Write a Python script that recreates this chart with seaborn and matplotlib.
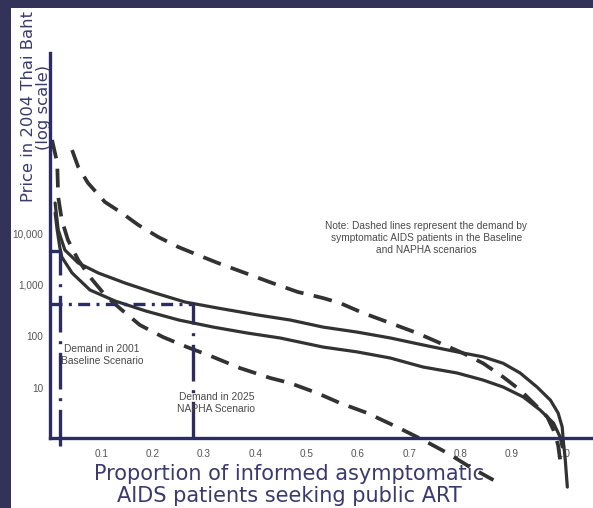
import matplotlib
matplotlib.use("Agg")
import matplotlib.pyplot as plt
from matplotlib.patches import Rectangle
import numpy as np
import pandas as pd
import seaborn as sns

# ---------------- data ----------------
# x = proportion seeking public ART, price = 2004 Thai Baht (log scale)
sym_hi_x = [0.043, 0.055, 0.074, 0.107, 0.140, 0.172, 0.211, 0.250, 0.288, 0.327,
            0.380, 0.433, 0.483, 0.532, 0.565, 0.610, 0.663, 0.715, 0.760, 0.805,
            0.844, 0.883, 0.916, 0.942, 0.969, 0.981, 0.990, 0.994]
sym_hi_price = [407000, 191000, 93500, 40100, 24500, 14400, 8400, 5380, 3770, 2640,
                1690, 1080, 723, 552, 442, 283, 181, 116, 74, 47,
                30, 16.3, 9.1, 5.1, 2.73, 1.53, 0.78, 0.40]

sym_lo_x = [0.004, 0.014, 0.016, 0.023, 0.035, 0.045, 0.055, 0.078, 0.109, 0.140,
            0.175, 0.220, 0.267, 0.318, 0.370, 0.429, 0.468, 0.520, 0.565, 0.618,
            0.676, 0.727, 0.774, 0.819, 0.864]
sym_lo_price = [637000, 229000, 50100, 17900, 7350, 4700, 3010, 1410, 600, 324,
                166, 97, 62, 39.7, 24.3, 15.6, 12.4, 8.0, 5.1, 3.27,
                1.75, 0.98, 0.55, 0.29, 0.164]

asym_hi_x = [0.010, 0.016, 0.029, 0.055, 0.094, 0.146, 0.205, 0.263, 0.327, 0.405,
             0.468, 0.532, 0.598, 0.663, 0.727, 0.793, 0.844, 0.883, 0.916, 0.949,
             0.975, 0.990, 0.998, 1.000, 1.004, 1.008]
asym_hi_price = [38300, 11500, 4700, 2640, 1690, 1080, 690, 462, 353, 259,
                 207, 151, 121, 93, 68, 50, 40, 30, 19.5, 10.4,
                 5.8, 3.27, 1.75, 0.98, 0.40, 0.12]

asym_lo_x = [0.010, 0.014, 0.019, 0.023, 0.043, 0.078, 0.127, 0.187, 0.251, 0.318,
             0.384, 0.448, 0.532, 0.598, 0.663, 0.727, 0.793, 0.844, 0.883, 0.922,
             0.955, 0.981, 0.994, 0.998]
asym_lo_price = [24500, 11500, 5380, 3440, 1690, 789, 483, 309, 207, 151,
                 116, 93, 62, 50, 38, 25.4, 19.5, 14.2, 10.4, 6.7,
                 3.73, 2.09, 1.12, 0.72]

# demand points marked by reference lines
baseline_2001 = (0.0195, 4600)
napha_2025 = (0.279, 423)

xtick_values = [0.1, 0.2, 0.3, 0.4, 0.5, 0.6, 0.7, 0.8, 0.9, 1.0]
xtick_labels = ["0.1", "0.2", "0.3", "0.4", "0.5", "0.6", "0.7", "0.8", "0.9", "1.0"]
ytick_values = [10, 100, 1000, 10000]
ytick_labels = ["10", "100", "1,000", "10,000"]

# ---------------- styling ----------------
NAVY = "#2c2c60"
BORDER = "#33335a"
TEXT_NAVY = "#3a3a6e"
CURVE = "#323232"
GRAY = "#4a4a4a"

sns.set_style("white")
plt.rcParams["font.family"] = ["Liberation Sans", "DejaVu Sans"]

W, H = 593, 508
fig = plt.figure(figsize=(W / 100, H / 100), dpi=100, facecolor=BORDER)
# white page inside the navy frame (frame: 8 px top, 11 px left)
fig.patches.append(Rectangle((11 / W, 0), 1 - 11 / W, 1 - 8 / H,
                             transform=fig.transFigure, facecolor="white",
                             edgecolor="none", zorder=-10))

ax = fig.add_axes([50 / W, (H - 438) / H, (W - 50) / W, (438 - 53) / H])
ax.set_facecolor("none")
ax.set_yscale("log")
xlo, xhi = 0.0, 1.058
ylo, yhi = 10 ** 0.03, 10 ** 7.49
ax.set_xlim(xlo, xhi)
ax.set_ylim(ylo, yhi)

def draw(xs, ys, dashed):
    df = pd.DataFrame({"x": xs, "price": ys})
    kw = dict(color=CURVE, clip_on=False, legend=False, sort=False, estimator=None)
    if dashed:
        sns.lineplot(data=df, x="x", y="price", ax=ax, lw=2.7,
                     linestyle=(0, (5.0, 2.8)), solid_capstyle="butt", **kw)
    else:
        sns.lineplot(data=df, x="x", y="price", ax=ax, lw=2.3, **kw)

draw(sym_hi_x, sym_hi_price, True)
draw(sym_lo_x, sym_lo_price, True)
draw(asym_hi_x, asym_hi_price, False)
draw(asym_lo_x, asym_lo_price, False)

def yfrac(v):
    return (np.log10(v) - np.log10(ylo)) / (np.log10(yhi) - np.log10(ylo))

def xfrac(v):
    return (v - xlo) / (xhi - xlo)

# Baseline 2001 reference lines
ax.axhline(baseline_2001[1], xmin=0, xmax=xfrac(baseline_2001[0]),
           color=NAVY, lw=2.4, clip_on=False, zorder=3)
ax.axvline(baseline_2001[0], ymin=-0.02, ymax=yfrac(baseline_2001[1]),
           color=NAVY, lw=2.4, clip_on=False, zorder=3,
           linestyle=(0, (11, 2.6, 0.9, 2.6)))
# NAPHA 2025 reference lines
ax.axhline(napha_2025[1], xmin=0, xmax=xfrac(napha_2025[0]),
           color=NAVY, lw=2.4, clip_on=False, zorder=3,
           linestyle=(0, (3.6, 1.9, 0.9, 1.9)))
ax.axvline(napha_2025[0], ymin=0, ymax=yfrac(napha_2025[1]),
           color=NAVY, lw=2.4, clip_on=False, zorder=3,
           linestyle=(0, (11, 2.6, 0.9, 2.6)))

# annotations
ax.text(0.101, 43, "Demand in 2001\nBaseline Scenario", ha="center", va="center",
        fontsize=7.4, color=GRAY, linespacing=1.25)
ax.text(0.324, 5.1, "Demand in 2025\nNAPHA Scenario", ha="center", va="center",
        fontsize=7.4, color=GRAY, linespacing=1.25)
ax.text(0.733, 8000,
        "Note: Dashed lines represent the demand by\n"
        "symptomatic AIDS patients in the Baseline\n"
        "and NAPHA scenarios",
        ha="center", va="center", fontsize=7.3, color=GRAY, linespacing=1.25)

# axes
for s in ["top", "right"]:
    ax.spines[s].set_visible(False)
for s in ["left", "bottom"]:
    ax.spines[s].set_color(NAVY)
    ax.spines[s].set_linewidth(2.4)
    ax.spines[s].set_zorder(4)

ax.set_xticks(xtick_values)
ax.set_xticklabels(xtick_labels)
ax.set_yticks(ytick_values)
ax.set_yticklabels(ytick_labels)
ax.yaxis.set_minor_locator(matplotlib.ticker.NullLocator())
ax.tick_params(axis="both", length=0, labelsize=7.2, labelcolor="#555555")
ax.tick_params(axis="x", pad=8)
ax.tick_params(axis="y", pad=5)

ax.set_xlabel("Proportion of informed asymptomatic\nAIDS patients seeking public ART",
              fontsize=15, color=TEXT_NAVY, linespacing=1.12,
              fontfamily=["DejaVu Sans"])
ax.xaxis.label.set_va("center")
ax.xaxis.set_label_coords((289 - 50) / (W - 50), (438 - 485) / (438 - 53))
ax.set_ylabel("Price in 2004 Thai Baht\n(log scale)", fontsize=11.8,
              color=TEXT_NAVY, linespacing=1.05, fontfamily=["DejaVu Sans"])
ax.yaxis.label.set_va("center")
ax.yaxis.label.set_ha("center")
ax.yaxis.set_label_coords((36 - 50) / (W - 50), (438 - 107) / (438 - 53))

fig.savefig("out.png", dpi=100, facecolor=fig.get_facecolor())
